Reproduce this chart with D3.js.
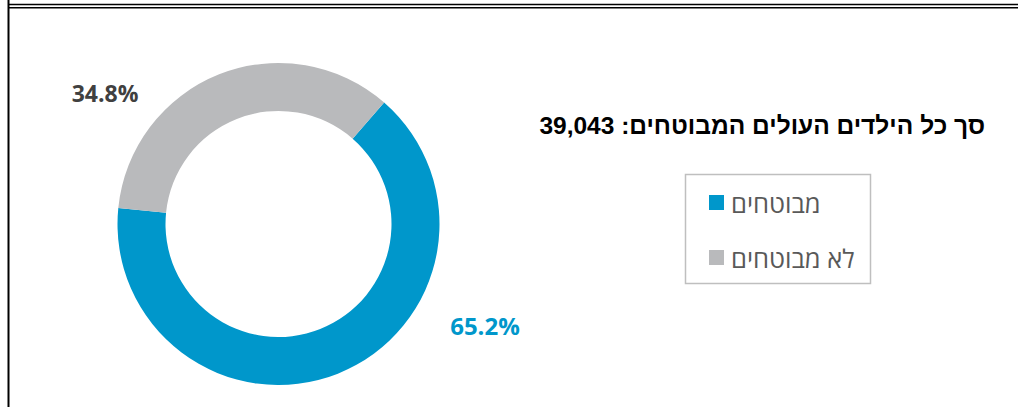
<!DOCTYPE html>
<html><head><meta charset="utf-8">
<script src="https://cdn.jsdelivr.net/npm/d3@7"></script>
<style>html,body{margin:0;padding:0;background:#fff;overflow:hidden}</style>
</head><body>
<svg id="c" width="1018" height="407"></svg>
<script>
const categories = ["מבוטחים", "לא מבוטחים"];
const values = [65.2, 34.8];
const valueLabels = ["65.2%", "34.8%"];
const colors = ["#0097CB", "#B9BABC"];
const labelColors = ["#0097CB", "#404040"];
const title = "סך כל הילדים העולים המבוטחים: 39,043";

const svg = d3.select("#c");
// frame lines
svg.append("line").attr("x1",8.5).attr("x2",8.5).attr("y1",0).attr("y2",407).attr("stroke","#000").attr("stroke-width",2);
svg.append("line").attr("x1",9).attr("x2",1018).attr("y1",4.5).attr("y2",4.5).attr("stroke","#000").attr("stroke-width",1.6);
svg.append("line").attr("x1",9).attr("x2",1018).attr("y1",7.8).attr("y2",7.8).attr("stroke","#000").attr("stroke-width",1.6);

const cx = 278.5, cy = 224, rOut = 161, rIn = 113;
const start = 41 * Math.PI / 180;
const pie = d3.pie().sort(null).value(d => d).startAngle(start).endAngle(start + 2 * Math.PI);
const arcs = pie(values);
const arc = d3.arc().innerRadius(rIn).outerRadius(rOut);
const g = svg.append("g").attr("transform", `translate(${cx},${cy})`);
g.selectAll("path").data(arcs).join("path").attr("d", arc).attr("fill", (d, i) => colors[i]);

// data labels outside
const labelPos = [[206.5, 101], [-173.5, -131]];
const labelSize = [24, 23];
g.selectAll("text.lbl").data(arcs).join("text").attr("class","lbl")
  .attr("x", (d, i) => labelPos[i][0]).attr("y", (d, i) => labelPos[i][1])
  .attr("text-anchor","middle").attr("dominant-baseline","central")
  .attr("font-family","'Open Sans', 'DejaVu Sans', sans-serif").attr("font-weight","bold").attr("font-size",(d,i)=>labelSize[i])
  .attr("fill", (d, i) => labelColors[i]).text((d, i) => valueLabels[i]);

// title
svg.append("text").attr("x", 985).attr("y", 125).attr("direction","rtl").attr("text-anchor","start")
  .attr("dominant-baseline","central")
  .attr("font-family","'Liberation Sans', Arial, sans-serif").attr("font-weight","bold").attr("font-size",24.5)
  .attr("fill","#000").text(title);

// legend
svg.append("rect").attr("x",685.5).attr("y",174.5).attr("width",185).attr("height",109).attr("fill","#fff").attr("stroke","#BFBFBF").attr("stroke-width",1.5);
const leg = svg.append("g");
const ly = d3.scalePoint().domain(categories).range([202.5, 257.5]);
leg.selectAll("rect").data(categories).join("rect").attr("x",709).attr("y", d => ly(d) - 7.5).attr("width",15).attr("height",15).attr("fill",(d,i)=>colors[i]);
leg.selectAll("text").data(categories).join("text").attr("x",731).attr("y", d => ly(d)).attr("direction","ltr").attr("text-anchor","start")
  .attr("dominant-baseline","central")
  .attr("font-family","'Open Sans', 'DejaVu Sans', sans-serif").attr("font-size",25.5).attr("fill","#595959").text(d => d);
</script>
</body></html>
